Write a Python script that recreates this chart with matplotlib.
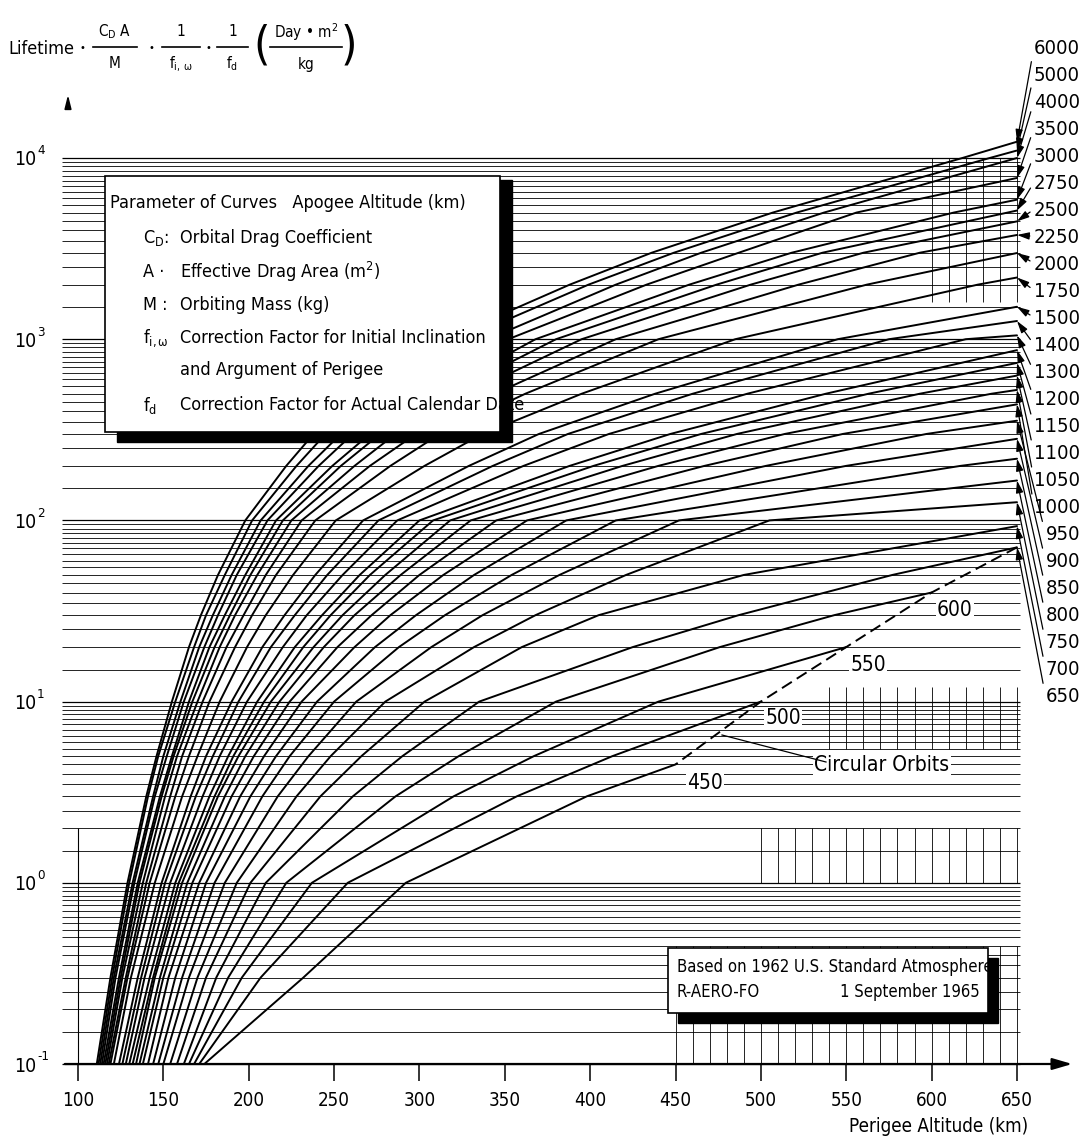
import numpy as np
import matplotlib.pyplot as plt
from matplotlib.patches import Rectangle

plt.rcParams['font.family'] = ['DejaVu Sans']
plt.rcParams['font.stretch'] = 'condensed'
plt.rcParams['mathtext.fontset'] = 'custom'
plt.rcParams['mathtext.rm'] = 'DejaVu Sans:stretch=condensed'
plt.rcParams['mathtext.it'] = 'DejaVu Sans:stretch=condensed'

# apogee altitude of each curve (km)
apogee = [6000, 5000, 4000, 3500, 3000, 2750, 2500, 2250, 2000, 1750, 1500, 1400,
          1300, 1200, 1150, 1100, 1050, 1000, 950, 900, 850, 800, 750, 700, 650,
          600, 550, 500, 450]
# lifetime levels (days) at which the perigee crossings were read
levels = [0.1, 0.3, 1, 3, 5, 10, 20, 30, 50, 100, 200, 300, 500, 1000, 2000, 3000,
          5000, 10000]
# perigee altitude (km) where each curve crosses those levels (short rows: level not reached)
cross = [
    [111, 119, 129, 140, 146, 155, 165, 172, 182, 198, 222, 238, 268, 315, 388, 436, 507, 618],
    [112, 120, 130, 141, 147, 157, 168, 175, 186, 202, 228, 245, 276, 325, 399, 449, 521, 634],
    [113, 121, 132, 144, 150, 160, 171, 179, 190, 207, 235, 254, 288, 340, 415, 465, 537],
    [114, 122, 133, 145, 152, 162, 174, 182, 193, 211, 241, 261, 296, 352, 433, 487, 556],
    [115, 124, 135, 148, 155, 165, 177, 186, 198, 216, 249, 271, 309, 368, 458, 518, 613],
    [116, 125, 136, 149, 156, 167, 180, 189, 201, 220, 254, 277, 317, 380, 474, 536],
    [117, 126, 138, 151, 158, 170, 183, 192, 205, 225, 262, 286, 328, 395, 494, 560],
    [118, 128, 140, 154, 161, 173, 187, 197, 210, 231, 271, 298, 344, 415, 522, 593],
    [119, 129, 142, 157, 165, 177, 192, 202, 216, 239, 283, 312, 362, 440, 562],
    [121, 131, 145, 161, 170, 183, 199, 210, 226, 251, 303, 337, 395, 485, 627],
    [124, 135, 149, 166, 175, 190, 208, 221, 239, 267, 329, 370, 438, 545],
    [126, 137, 151, 169, 179, 194, 213, 227, 246, 276, 343, 387, 460, 575],
    [128, 139, 154, 173, 183, 199, 220, 234, 255, 287, 361, 411, 492, 620],
    [130, 142, 157, 177, 188, 205, 227, 243, 265, 300, 388, 447, 538],
    [132, 144, 159, 180, 191, 209, 232, 248, 271, 308, 402, 465, 563],
    [134, 145, 161, 182, 194, 213, 238, 255, 280, 318, 419, 486, 593],
    [136, 148, 164, 186, 198, 218, 244, 262, 289, 330, 440, 514, 635],
    [138, 150, 167, 190, 203, 224, 252, 272, 300, 345, 467, 548],
    [141, 153, 171, 195, 209, 231, 262, 283, 314, 363, 503, 597],
    [144, 157, 175, 201, 216, 240, 274, 298, 332, 386, 550],
    [147, 161, 180, 208, 224, 250, 288, 315, 354, 415, 617],
    [150, 165, 186, 217, 235, 263, 307, 337, 382, 452],
    [154, 170, 193, 228, 248, 280, 332, 368, 421, 505],
    [158, 175, 201, 242, 266, 303, 360, 405, 490],
    [162, 181, 210, 261, 290, 335, 425, 487, 577],
    [165, 188, 222, 286, 323, 380, 476, 543],
    [168, 196, 237, 320, 367, 440],
    [171, 207, 258, 357, 413],
    [174, 232, 292, 398],
]
# lifetime (days) at the end of each curve: perigee 650 km or circular orbit
end_life = [12300, 11000, 10000, 7760, 5890, 5130, 4470, 3760, 2990, 2190, 1510,
            1260, 1050, 870, 740, 630, 525, 437, 355, 282, 219, 166, 126, 93, 71,
            40, 20, 10, 4.5]

x_ticks = [100, 150, 200, 250, 300, 350, 400, 450, 500, 550, 600, 650]
y_decades = [-1, 0, 1, 2, 3, 4]

# pixel layout of the scanned sheet
W, H = 1086, 1141
PX_KM = 939 / 550          # pixels per km of perigee
PX_DEC = 181.2             # pixels per decade of lifetime
XMIN = 100 - 78 / PX_KM
LOG_TOP = 4 + 158 / PX_DEC


def dx(xp):
    return XMIN + xp / PX_KM


def dy(yp):
    return 10 ** (LOG_TOP - yp / PX_DEC)


def ff(xp, yp):
    return xp / W, 1 - yp / H


fig = plt.figure(figsize=(W / 100, H / 100), dpi=100)
ax = fig.add_axes([0, 0, 1, 1])
ax.set_yscale('log')
ax.set_xlim(XMIN, XMIN + W / PX_KM)
ax.set_ylim(10 ** (LOG_TOP - H / PX_DEC), 10 ** LOG_TOP)
ax.axis('off')

# log grid
for d in range(-1, 4):
    for m in np.arange(1, 10, 0.5):
        ax.hlines(m * 10 ** d, dx(62), dx(1020), color='k', lw=0.9 if m == 1 else 0.6, zorder=1)
ax.hlines(1e4, dx(62), dx(1020), color='k', lw=0.9, zorder=1)
# remnants of the 10 km vertical rulings
for x0, y0, y1 in [(450, 0.1, 0.45), (500, 1, 2), (540, 5.5, 12), (600, 1600, 10000)]:
    ax.vlines(np.arange(x0, 651, 10), y0, y1, color='k', lw=0.6, zorder=1)
ax.vlines(100, 0.1, 2, color='k', lw=0.8, zorder=1)

# curves
for ha, row, le in zip(apogee, cross, end_life):
    xs = list(row) + [min(ha, 650)]
    ys = levels[:len(row)] + [le]
    ax.plot(xs, ys, color='k', lw=1.4, zorder=3, solid_capstyle='round')

# circular orbits
circ_hp = [ha for ha in apogee if ha <= 650]
circ_life = [le for ha, le in zip(apogee, end_life) if ha <= 650]
ax.plot(circ_hp, circ_life, color='k', lw=1.4, ls=(0, (6, 3)), zorder=3)

# right-hand labels with leaders
k = 0
for ha, le in zip(apogee, end_life):
    if ha < 650:
        continue
    yl = 48 + k * 27.04
    ax.annotate(str(ha), xy=(650, le), xytext=ff(1080, yl), textcoords='figure fraction',
                ha='right', va='center', fontsize=14.5, zorder=6,
                arrowprops=dict(arrowstyle='-|>,head_length=0.5,head_width=0.15', lw=0.9,
                                color='k', relpos=(0, 0.55), shrinkA=1, shrinkB=0))
    k += 1

inner = {450: (705, 783), 500: (783, 718), 550: (868, 665), 600: (955, 610)}
for ha, (xp, yp) in inner.items():
    ax.text(dx(xp), dy(yp), str(ha), ha='center', va='center', fontsize=15, zorder=5,
            bbox=dict(fc='white', ec='none', pad=1))

ax.text(dx(882), dy(765), 'Circular Orbits', ha='center', va='center', fontsize=15, zorder=5,
        bbox=dict(fc='white', ec='none', pad=1))
ax.plot([dx(722), dx(826)], [dy(735), dy(762)], color='k', lw=0.9, zorder=5)

# axes
ax.annotate('', xy=(dx(1075), 0.1), xytext=(dx(62), 0.1),
            arrowprops=dict(arrowstyle='-|>,head_length=1.2,head_width=0.35', lw=1.6, color='k'),
            zorder=4)
ax.annotate('', xy=(dx(68), dy(92)), xytext=(dx(68), dy(112)),
            arrowprops=dict(arrowstyle='-|>,head_length=0.8,head_width=0.2', lw=1.2, color='k'))
for xt in x_ticks:
    ax.vlines(xt, 0.1, dy(1081), color='k', lw=1.1)
    ax.text(xt, dy(1100), str(xt), ha='center', va='center', fontsize=13.5)
ax.text(dx(1028), dy(1127), 'Perigee Altitude (km)', ha='right', va='center', fontsize=13.5)
for d in y_decades:
    yp = 158 + (4 - d) * PX_DEC
    ax.text(dx(36), dy(yp + 2), '10', ha='right', va='center', fontsize=14)
    ax.text(dx(37), dy(yp - 7), str(d), ha='left', va='center', fontsize=9.5)

# legend box with drop shadow
fig.patches.append(Rectangle(ff(117, 442), 395 / W, 262 / H, transform=fig.transFigure,
                             fc='k', ec='k', zorder=7))
fig.patches.append(Rectangle(ff(105, 432), 395 / W, 256 / H, transform=fig.transFigure,
                             fc='white', ec='k', lw=1.2, zorder=8))
leg = [(110, 203, 'Parameter of Curves   Apogee Altitude (km)'),
       (143, 238, r'C$_\mathrm{D}$:'), (180, 238, 'Orbital Drag Coefficient'),
       (143, 272, 'A ·'), (180, 272, r'Effective Drag Area (m$^\mathrm{2}$)'),
       (143, 305, 'M :'), (180, 305, 'Orbiting Mass (kg)'),
       (143, 338, r'f$_{\mathrm{i,\omega}}$'), (180, 338, 'Correction Factor for Initial Inclination'),
       (180, 370, 'and Argument of Perigee'),
       (143, 405, r'f$_\mathrm{d}$'), (180, 405, 'Correction Factor for Actual Calendar Date')]
for xp, yp, s in leg:
    fig.text(*ff(xp, yp), s, ha='left', va='center', fontsize=13, zorder=9)

# note box
fig.patches.append(Rectangle(ff(678, 1023), 320 / W, 65 / H, transform=fig.transFigure,
                             fc='k', ec='k', zorder=7))
fig.patches.append(Rectangle(ff(668, 1013), 320 / W, 65 / H, transform=fig.transFigure,
                             fc='white', ec='k', lw=1.2, zorder=8))
fig.text(*ff(677, 967), 'Based on 1962 U.S. Standard Atmosphere', ha='left', va='center',
         fontsize=12, zorder=9)
fig.text(*ff(677, 992), 'R-AERO-FO', ha='left', va='center', fontsize=12, zorder=9)
fig.text(*ff(980, 992), '1 September 1965', ha='right', va='center', fontsize=12, zorder=9)

# formula heading
fig.text(*ff(8, 49), 'Lifetime', ha='left', va='center', fontsize=13)
fracs = [(93, 137, r'C$_\mathrm{D}$ A', 'M'), (162, 200, '1', r'f$_{\mathrm{i,\,\omega}}$'),
         (217, 248, '1', r'f$_\mathrm{d}$'), (270, 342, r'Day • m$^\mathrm{2}$', 'kg')]
for x1, x2, num, den in fracs:
    fig.add_artist(plt.Line2D([x1 / W, x2 / W], [1 - 47 / H] * 2, color='k', lw=1.2))
    fig.text(*ff((x1 + x2) / 2, 32), num, ha='center', va='center', fontsize=11)
    fig.text(*ff((x1 + x2) / 2, 64), den, ha='center', va='center', fontsize=11)
for xp in (82, 151, 208):
    fig.text(*ff(xp, 48), '•', ha='center', va='center', fontsize=8)
fig.text(*ff(262, 46), '(', ha='center', va='center', fontsize=34)
fig.text(*ff(349, 46), ')', ha='center', va='center', fontsize=34)

fig.savefig('out.png', dpi=100)
